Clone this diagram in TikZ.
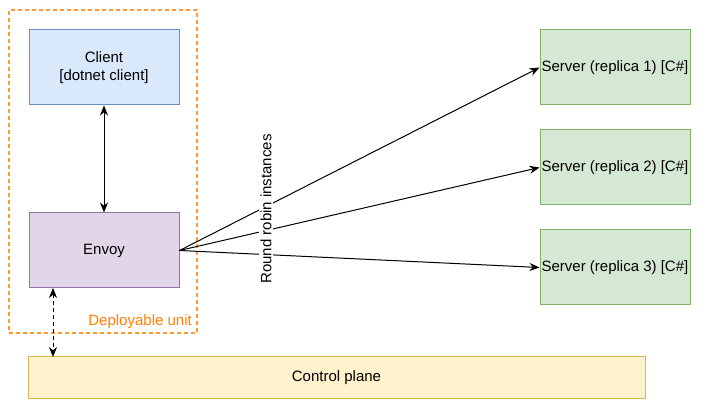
\documentclass[tikz,border=0pt]{standalone}
\usepackage{fontspec}
\setmainfont{Liberation Sans}
\usetikzlibrary{arrows.meta}
\definecolor{bluefill}{HTML}{DAE8FC}
\definecolor{bluedraw}{HTML}{6C8EBF}
\definecolor{purpfill}{HTML}{E1D5E7}
\definecolor{purpdraw}{HTML}{9673A6}
\definecolor{greenfill}{HTML}{D5E8D4}
\definecolor{greendraw}{HTML}{82B366}
\definecolor{yelfill}{HTML}{FFF2CC}
\definecolor{yeldraw}{HTML}{D6B656}
\definecolor{orangeline}{HTML}{FF9933}
\definecolor{orangetext}{HTML}{FF8000}
\begin{document}
\begin{tikzpicture}[x=1pt,y=-1pt,
  every node/.style={font=\fontsize{15}{17.5}\selectfont},
  box/.style={draw, line width=1pt, minimum width=150pt, minimum height=75pt, inner sep=0pt, align=center},
  conn/.style={-{Stealth[length=10pt,width=8pt]}, line width=1pt},
  biconn/.style={{Stealth[length=10pt,width=8pt]}-{Stealth[length=10pt,width=8pt]}, line width=1pt}]
\useasboundingbox (0,0) rectangle (705,411);
\node[draw=orangeline, dash pattern=on 4pt off 3pt, line width=1.3pt, minimum width=188pt, minimum height=323pt, inner sep=0pt] (unit) at (103,171.5) {};
\node[text=orangetext, anchor=south east, inner sep=0pt] (unitlbl) at (192,329) {Deployable unit};
\node[box, fill=bluefill, draw=bluedraw] (client) at (104,67.5) {Client\\\relax[dotnet client]};
\node[box, fill=purpfill, draw=purpdraw] (envoy) at (104,250.5) {Envoy};
\node[box, fill=greenfill, draw=greendraw] (s1) at (615,67.5) {Server (replica 1) [C\#]};
\node[box, fill=greenfill, draw=greendraw] (s2) at (615,167.5) {Server (replica 2) [C\#]};
\node[box, fill=greenfill, draw=greendraw] (s3) at (615,267.5) {Server (replica 3) [C\#]};
\node[draw=yeldraw, fill=yelfill, line width=1pt, minimum width=617pt, minimum height=42pt, inner sep=0pt] (cp) at (336.5,378) {Control plane};
\coordinate (etop) at (53,288);
\coordinate (cptop) at (53,357);
\draw[conn] (envoy.east) -- (s1.west);
\draw[conn] (envoy.east) -- (s2.west);
\draw[conn] (envoy.east) -- (s3.west);
\node[rotate=90, fill=white, inner sep=1pt] (rr) at (266,209) {Round robin instances};
\draw[biconn] (client.south) -- (envoy.north);
\draw[biconn, dash pattern=on 4pt off 3pt] (etop) -- (cptop);
\end{tikzpicture}
\end{document}
